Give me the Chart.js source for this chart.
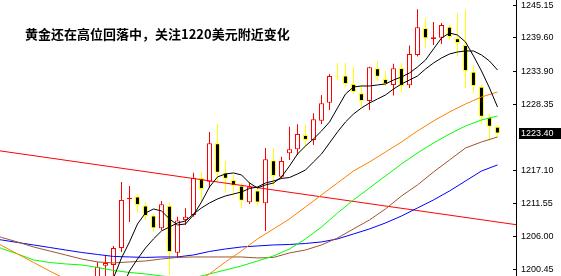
<!DOCTYPE html>
<html>
<head>
<meta charset="utf-8">
<script src="https://cdn.jsdelivr.net/npm/chart.js@4/dist/chart.umd.min.js"></script>
<style>
  html, body { margin: 0; padding: 0; background: #fff; }
  canvas { display: block; }
</style>
</head>
<body>
<canvas id="goldChart" width="561" height="276"></canvas>
<script>
const titleText = "黄金还在高位回落中，关注1220美元附近变化";

// candle slots, 0 = first candle visible at the bottom left
const candleIdx = Array.from({ length: 51 }, (_, i) => i);

const openP = [1197.81, 1201.07, 1201.19, 1204.06, 1212.30, 1212.77, 1211.25, 1209.56, 1207.39, 1211.22,
  1203.27, 1208.80, 1209.64, 1215.90, 1215.27, 1221.77, 1216.80, 1215.56, 1214.60, 1211.79,
  1213.79, 1211.62, 1218.89, 1216.12, 1220.08, 1220.75, 1223.17, 1222.33, 1225.59, 1228.63,
  1233.10, 1233.23, 1231.80, 1230.22, 1228.92, 1234.45, 1232.64, 1231.63, 1234.50, 1231.58,
  1236.70, 1241.27, 1239.41, 1239.62, 1241.49, 1239.52, 1238.39, 1233.88, 1231.34, 1226.16,
  1224.58];
const highP = [1201.70, 1202.71, 1204.40, 1215.22, 1214.55, 1213.11, 1211.84, 1209.81, 1212.01, 1211.76,
  1209.36, 1210.78, 1216.80, 1216.97, 1223.68, 1225.08, 1218.77, 1216.41, 1215.00, 1215.11,
  1214.43, 1220.97, 1220.97, 1219.50, 1224.58, 1224.98, 1224.86, 1226.84, 1229.94, 1233.49,
  1235.35, 1235.40, 1234.72, 1231.63, 1234.72, 1235.68, 1233.99, 1235.23, 1235.35, 1238.31,
  1244.43, 1242.91, 1242.28, 1242.11, 1241.77, 1243.75, 1244.31, 1235.01, 1231.63, 1226.72,
  1224.86];
const lowP = [1196.96, 1197.81, 1198.31, 1203.39, 1208.46, 1210.07, 1208.80, 1206.77, 1207.11, 1199.50,
  1202.37, 1207.95, 1209.36, 1212.01, 1214.21, 1215.14, 1213.45, 1213.03, 1210.78, 1211.50,
  1211.25, 1206.94, 1214.55, 1215.85, 1218.94, 1219.79, 1221.09, 1221.48, 1225.03, 1227.40,
  1232.47, 1231.29, 1230.10, 1227.91, 1227.40, 1232.30, 1231.46, 1229.85, 1230.32, 1231.12,
  1236.45, 1237.88, 1238.39, 1238.56, 1239.24, 1236.53, 1231.12, 1230.22, 1225.03, 1222.16,
  1222.83];
const closeP = [1200.90, 1201.53, 1204.06, 1212.18, 1212.57, 1211.33, 1209.47, 1207.39, 1211.45, 1203.39,
  1208.71, 1209.36, 1215.90, 1214.04, 1221.77, 1216.80, 1215.76, 1214.60, 1212.06, 1214.43,
  1211.76, 1219.06, 1216.24, 1218.77, 1220.75, 1223.34, 1222.33, 1225.83, 1228.53, 1233.15,
  1232.93, 1231.80, 1230.44, 1228.92, 1234.62, 1233.03, 1231.80, 1234.45, 1231.46, 1236.87,
  1241.38, 1239.52, 1239.69, 1241.77, 1239.74, 1238.73, 1233.99, 1231.46, 1226.27, 1224.58,
  1223.40];

// short averages, one value per candle
const ma5Start = 2;
const ma5 = [1198.99, 1202.37, 1205.08, 1208.12, 1209.98, 1210.66, 1210.32, 1208.97, 1207.95, 1208.12,
  1209.64, 1211.84, 1214.38, 1216.07, 1216.58, 1216.75, 1216.41, 1215.05, 1214.21, 1214.72,
  1215.05, 1216.07, 1217.93, 1219.96, 1221.31, 1222.50, 1223.85, 1225.37, 1227.74, 1230.10,
  1231.29, 1231.46, 1231.46, 1231.63, 1231.80, 1232.47, 1232.98, 1233.66, 1234.67, 1235.85,
  1237.71, 1239.57, 1240.42, 1240.08, 1238.90, 1236.53, 1233.99, 1231.12, 1227.91];
const ma10Start = 3;
const ma10 = [1196.96, 1200.17, 1202.20, 1204.06, 1205.59, 1206.94, 1207.61, 1208.29, 1208.63, 1209.81,
  1210.83, 1211.67, 1212.35, 1212.86, 1213.19, 1213.53, 1214.12, 1214.38, 1215.05, 1215.39,
  1215.82, 1215.98, 1216.58, 1217.25, 1218.61, 1219.96, 1221.82, 1223.68, 1225.37, 1226.72,
  1227.74, 1228.58, 1229.26, 1229.94, 1230.95, 1231.80, 1232.47, 1233.15, 1234.33, 1235.35,
  1236.19, 1236.87, 1237.21, 1237.38, 1237.38, 1236.70, 1235.68, 1234.16];

// long averages, read every second candle (negative = left of the first visible candle)
const longIdx = [-13, -12, -10, -8, -6, -4, -2, 0, 2, 4, 6, 8, 10, 12, 14, 16, 18, 20, 22, 24,
  26, 28, 30, 32, 34, 36, 38, 40, 42, 44, 46, 48, 50];
const maOrange = [1205.25, 1204.49, 1203.05, 1201.61, 1200.17, 1198.82, 1197.81, 1196.96, 1196.45, 1196.12,
  1196.12, 1196.45, 1197.13, 1198.14, 1199.67, 1201.70, 1203.56, 1205.59, 1207.28, 1208.97,
  1211.00, 1213.03, 1215.05, 1217.08, 1218.61, 1220.30, 1221.99, 1223.85, 1225.54, 1227.06,
  1228.41, 1229.60, 1230.44];
const maGreen = [1204.57, 1203.98, 1203.05, 1202.03, 1201.61, 1201.36, 1201.19, 1200.77, 1200.26, 1199.92,
  1199.67, 1199.33, 1198.99, 1198.99, 1199.67, 1200.34, 1201.02, 1201.86, 1202.71, 1203.89,
  1205.59, 1207.61, 1209.98, 1212.18, 1214.21, 1216.24, 1218.27, 1220.13, 1221.82, 1223.34,
  1224.69, 1225.71, 1226.38];
const maBrown = [1206.43, 1205.84, 1205.08, 1204.23, 1203.56, 1202.88, 1202.20, 1201.70, 1201.53, 1201.70,
  1201.86, 1202.20, 1202.46, 1202.54, 1202.54, 1202.54, 1202.54, 1202.37, 1202.46, 1203.22,
  1203.72, 1204.57, 1205.75, 1207.28, 1208.80, 1210.66, 1212.86, 1214.72, 1216.91, 1218.94,
  1220.97, 1221.99, 1222.83];
const maBlue = [1205.59, 1205.42, 1204.99, 1204.57, 1204.15, 1203.72, 1203.30, 1202.96, 1202.63, 1202.54,
  1202.46, 1202.54, 1202.54, 1202.88, 1203.47, 1203.89, 1204.23, 1204.40, 1204.57, 1204.65,
  1204.82, 1205.08, 1205.59, 1206.43, 1207.28, 1208.29, 1209.47, 1210.83, 1212.18, 1213.70,
  1215.39, 1217.08, 1218.10];

// red trend line, two ends
const trendIdx = [-13, 53];
const trendVal = [1220.64, 1207.87];

const tickVals = [1245.15, 1239.60, 1233.90, 1228.35, 1217.10, 1211.55, 1206.00, 1200.45];
const yMin = 1199.32;
const yMax = 1246.00;

const pairs = (xs, ys) => ys.map((v, i) => ({ x: xs[i], y: v }));
const fromStart = (start, ys) => ys.map((v, i) => ({ x: start + i, y: v }));

const isUp = candleIdx.map(i => closeP[i] >= openP[i]);
const wickColors = isUp.map(u => (u ? "#ff0000" : "#ffff00"));
const bodyFill = isUp.map(u => (u ? "#ffffff" : "#000000"));
const bodyEdge = isUp.map(u => (u ? "#ff0000" : "#ffff00"));

const lineSet = (data, color, order) => ({
  type: "line",
  data: data,
  borderColor: color,
  borderWidth: 1,
  pointRadius: 0,
  fill: false,
  tension: 0,
  order: order,
});

const overlay = {
  id: "overlay",
  afterDraw(chart) {
    const ctx = chart.ctx;
    const last = closeP[closeP.length - 1];
    const y = chart.scales.y.getPixelForValue(last);
    ctx.save();
    ctx.fillStyle = "#000";
    ctx.fillRect(519, Math.round(y) - 6, 42, 11);
    ctx.fillStyle = "#fff";
    ctx.font = '9px "Liberation Sans", Arial, sans-serif';
    ctx.textBaseline = "middle";
    ctx.fillText(last.toFixed(2), 521, Math.round(y) - 0.5);
    ctx.fillStyle = "#000";
    ctx.font = 'bold 13px "Noto Sans CJK SC", sans-serif';
    ctx.fillText(titleText, 25, 34);
    ctx.restore();
  },
};

new Chart(document.getElementById("goldChart"), {
  type: "bar",
  data: {
    datasets: [
      lineSet(fromStart(ma5Start, ma5), "#000000", 1),
      lineSet(fromStart(ma10Start, ma10), "#000000", 1),
      lineSet(pairs(longIdx, maOrange), "#ff8000", 2),
      lineSet(pairs(longIdx, maGreen), "#00ff00", 2),
      lineSet(pairs(longIdx, maBrown), "#a0522d", 2),
      lineSet(pairs(longIdx, maBlue), "#0000ff", 2),
      lineSet(pairs(trendIdx, trendVal), "#ff0000", 2),
      {
        type: "bar",
        data: candleIdx.map(i => ({ x: i, y: [openP[i], closeP[i]] })),
        backgroundColor: bodyFill,
        borderColor: bodyEdge,
        borderWidth: 1,
        borderSkipped: false,
        barThickness: 5,
        grouped: false,
        inflateAmount: 0,
        order: 3,
      },
      {
        type: "bar",
        data: candleIdx.map(i => ({ x: i, y: [lowP[i], highP[i]] })),
        backgroundColor: wickColors,
        borderWidth: 0,
        barThickness: 1,
        grouped: false,
        inflateAmount: 0,
        order: 4,
      },
    ],
  },
  options: {
    responsive: false,
    animation: false,
    devicePixelRatio: 1,
    layout: { padding: 0 },
    plugins: {
      legend: { display: false },
      tooltip: { enabled: false },
    },
    scales: {
      x: {
        type: "linear",
        min: -12.1875,
        max: 52.3125,
        offset: false,
        display: false,
      },
      y: {
        position: "right",
        min: yMin,
        max: yMax,
        afterFit(scale) {
          scale.width = 45;
          scale.paddingTop = 0;
          scale.paddingBottom = 0;
        },
        afterBuildTicks(scale) {
          scale.ticks = tickVals.map(v => ({ value: v }));
        },
        grid: {
          drawOnChartArea: false,
          drawTicks: true,
          tickLength: -3,
          color: "#000",
        },
        border: { display: true, color: "#000", width: 1 },
        ticks: {
          autoSkip: false,
          padding: 8,
          color: "#000",
          font: { family: "Liberation Sans", size: 9 },
          callback: v => v.toFixed(2),
        },
      },
    },
  },
  plugins: [overlay],
});
</script>
</body>
</html>
